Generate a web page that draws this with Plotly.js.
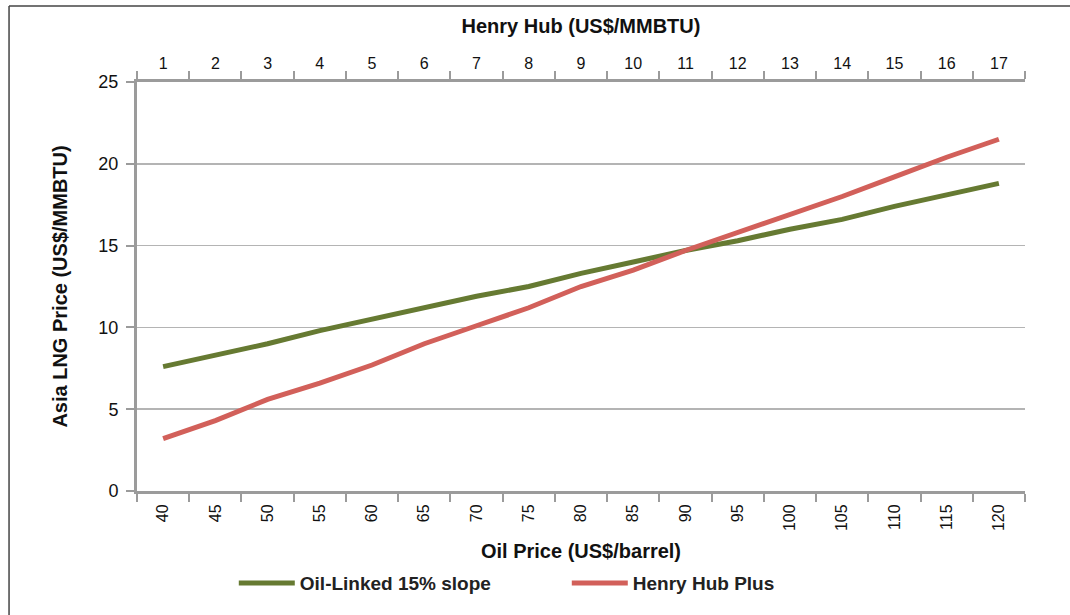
<!DOCTYPE html>
<html>
<head>
<meta charset="utf-8">
<script src="https://cdn.plot.ly/plotly-3.0.1.min.js"></script>
<style>
html,body{margin:0;padding:0;background:#fff;}
#chart{width:1070px;height:615px;}
</style>
</head>
<body>
<div id="chart"></div>
<script>
// Data
const oilPrices = ['40','45','50','55','60','65','70','75','80','85','90','95','100','105','110','115','120'];
const henryHubTicks = ['1','2','3','4','5','6','7','8','9','10','11','12','13','14','15','16','17'];
const oilLinked = [7.6, 8.3, 9.0, 9.8, 10.5, 11.2, 11.9, 12.5, 13.3, 14.0, 14.7, 15.3, 16.0, 16.6, 17.4, 18.1, 18.8];
const henryHubPlus = [3.2, 4.3, 5.6, 6.6, 7.7, 9.0, 10.1, 11.2, 12.5, 13.5, 14.7, 15.8, 16.9, 18.0, 19.2, 20.4, 21.5];

const FONT = 'Liberation Sans, Arial, Helvetica, sans-serif';
const AXIS_GRAY = '#9b9b9b';

const traces = [
  {
    x: oilPrices, y: oilLinked, type: 'scatter', mode: 'lines',
    name: 'Oil-Linked 15% slope',
    line: {color: '#667a32', width: 5}
  },
  {
    x: oilPrices, y: henryHubPlus, type: 'scatter', mode: 'lines',
    name: 'Henry Hub Plus',
    line: {color: '#d2605a', width: 5}
  },
  {
    x: henryHubTicks, y: henryHubTicks.map(() => null), xaxis: 'x2',
    type: 'scatter', mode: 'lines', showlegend: false, hoverinfo: 'skip'
  }
];

const catRange = [-0.5, oilPrices.length - 0.5];

const layout = {
  width: 1070, height: 615,
  margin: {l: 137, r: 45, t: 82, b: 124},
  paper_bgcolor: '#fff', plot_bgcolor: '#fff',
  font: {family: FONT, color: '#111', size: 15},
  showlegend: true,
  legend: {
    orientation: 'h', x: 0.109, xanchor: 'left', y: -0.225, yanchor: 'middle',
    font: {family: FONT, size: 19, color: '#222', weight: 'bold'},
    entrywidth: 262, entrywidthmode: 'pixels', itemwidth: 56
  },
  xaxis: {
    type: 'category', categoryorder: 'array', categoryarray: oilPrices, range: catRange,
    tickson: 'boundaries', ticks: 'outside', ticklen: 8, tickwidth: 2, tickcolor: AXIS_GRAY,
    showline: true, linecolor: AXIS_GRAY, linewidth: 3, showgrid: false,
    tickangle: -90, ticklabelstandoff: 4, tickfont: {family: FONT, size: 16, color: '#111'},
    title: {text: '<b>Oil Price (US$/barrel)</b>', font: {family: FONT, size: 20, color: '#111'}, standoff: 14},
    automargin: false, fixedrange: true
  },
  xaxis2: {
    type: 'category', categoryorder: 'array', categoryarray: henryHubTicks, range: catRange,
    overlaying: 'x', side: 'top',
    tickson: 'boundaries', ticks: 'outside', ticklen: 8, tickwidth: 2, tickcolor: AXIS_GRAY,
    showline: true, linecolor: AXIS_GRAY, linewidth: 3, showgrid: false,
    ticklabelstandoff: 4, tickfont: {family: FONT, size: 16, color: '#111'},
    title: {text: '<b>Henry Hub (US$/MMBTU)</b>', font: {family: FONT, size: 20, color: '#111'}, standoff: 16},
    automargin: false, fixedrange: true
  },
  yaxis: {
    range: [0, 25], dtick: 5, tick0: 0,
    ticks: 'outside', ticklen: 8, tickwidth: 2, tickcolor: AXIS_GRAY,
    showline: true, linecolor: AXIS_GRAY, linewidth: 3,
    showgrid: true, gridcolor: '#b4b4b4', gridwidth: 1.5, zeroline: false,
    ticklabelstandoff: 4, tickfont: {family: FONT, size: 18, color: '#111'},
    title: {text: '<b>Asia LNG Price (US$/MMBTU)</b>', font: {family: FONT, size: 20, color: '#111'}, standoff: 26},
    automargin: false, fixedrange: true
  },
  shapes: [
    {type: 'line', xref: 'paper', yref: 'paper', x0: -0.1441, x1: -0.1441, y0: 1.1858, y1: -0.31, line: {color: '#444', width: 1.5}},
    {type: 'line', xref: 'paper', yref: 'paper', x0: -0.1441, x1: 1.06, y0: 1.1858, y1: 1.1858, line: {color: '#444', width: 1.5}}
  ]
};

Plotly.newPlot('chart', traces, layout, {displayModeBar: false, staticPlot: true});
</script>
</body>
</html>
